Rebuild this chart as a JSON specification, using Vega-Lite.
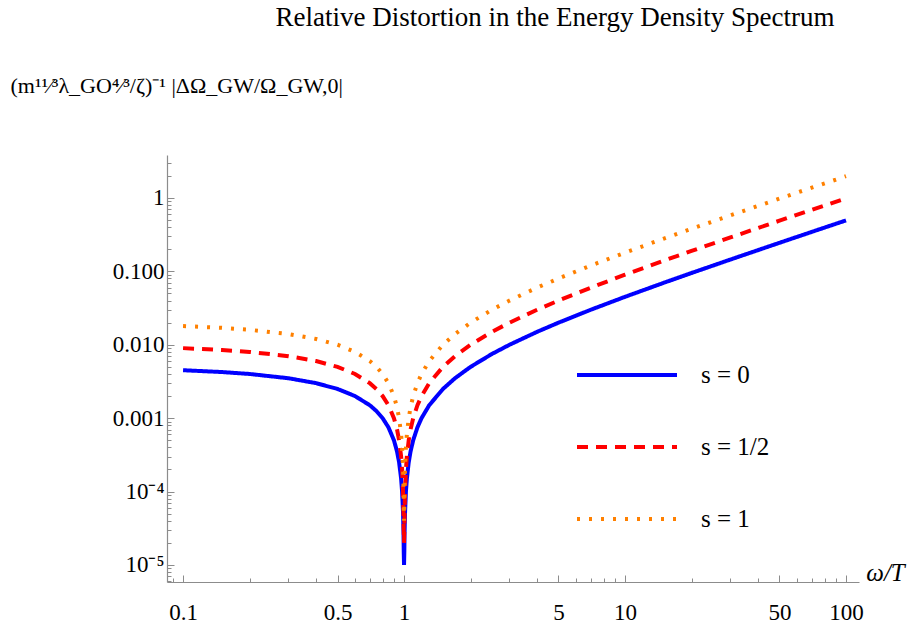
{
  "$schema": "https://vega.github.io/schema/vega-lite/v6.json",
  "width": 692,
  "height": 427,
  "autosize": {"type": "none"},
  "padding": {"left": 167, "top": 155, "right": 49, "bottom": 50},
  "background": "white",
  "title": {
    "text": "Relative Distortion in the Energy Density Spectrum",
    "font": "Liberation Serif",
    "fontSize": 27,
    "fontWeight": "normal",
    "color": "black",
    "anchor": "middle",
    "frame": "group",
    "dx": 42,
    "offset": 42
  },
  "data": {
    "values": [
      {"x": 0.1, "s = 0": 0.0045, "s = 1/2": 0.009, "s = 1": 0.018},
      {"x": 0.15, "s = 0": 0.00425, "s = 1/2": 0.0085, "s = 1": 0.017},
      {"x": 0.2, "s = 0": 0.004, "s = 1/2": 0.008, "s = 1": 0.016},
      {"x": 0.3, "s = 0": 0.0035, "s = 1/2": 0.007, "s = 1": 0.014},
      {"x": 0.4, "s = 0": 0.003, "s = 1/2": 0.006, "s = 1": 0.012},
      {"x": 0.5, "s = 0": 0.0025, "s = 1/2": 0.005, "s = 1": 0.01},
      {"x": 0.6, "s = 0": 0.002, "s = 1/2": 0.004, "s = 1": 0.008},
      {"x": 0.7, "s = 0": 0.0015, "s = 1/2": 0.003, "s = 1": 0.006},
      {"x": 0.75, "s = 0": 0.00125, "s = 1/2": 0.0025, "s = 1": 0.005},
      {"x": 0.8, "s = 0": 0.001, "s = 1/2": 0.002, "s = 1": 0.004},
      {"x": 0.85, "s = 0": 0.00075, "s = 1/2": 0.0015, "s = 1": 0.003},
      {"x": 0.9, "s = 0": 0.0005, "s = 1/2": 0.001, "s = 1": 0.002},
      {"x": 0.93, "s = 0": 0.00035, "s = 1/2": 0.0007, "s = 1": 0.0014},
      {"x": 0.95, "s = 0": 0.00025, "s = 1/2": 0.0005, "s = 1": 0.001},
      {"x": 0.97, "s = 0": 0.00015, "s = 1/2": 0.0003, "s = 1": 0.0006},
      {"x": 0.98, "s = 0": 0.0001, "s = 1/2": 0.0002, "s = 1": 0.0004},
      {"x": 0.99, "s = 0": 0.00005, "s = 1/2": 0.0001, "s = 1": 0.0002},
      {"x": 0.995, "s = 0": 0.000025, "s = 1/2": 0.00005, "s = 1": 0.0001},
      {"x": 0.997, "s = 0": 0.000015, "s = 1/2": 0.00003, "s = 1": 0.00006},
      {"x": 1, "s = 0": 0.00001, "s = 1/2": 0.00002, "s = 1": 0.00004},
      {"x": 1.003, "s = 0": 0.000015, "s = 1/2": 0.00003, "s = 1": 0.00006},
      {"x": 1.005, "s = 0": 0.000025, "s = 1/2": 0.00005, "s = 1": 0.0001},
      {"x": 1.01, "s = 0": 0.00005, "s = 1/2": 0.0001, "s = 1": 0.0002},
      {"x": 1.02, "s = 0": 0.0001, "s = 1/2": 0.0002, "s = 1": 0.0004},
      {"x": 1.03, "s = 0": 0.00015, "s = 1/2": 0.0003, "s = 1": 0.0006},
      {"x": 1.05, "s = 0": 0.00025, "s = 1/2": 0.0005, "s = 1": 0.001},
      {"x": 1.07, "s = 0": 0.00035, "s = 1/2": 0.0007, "s = 1": 0.0014},
      {"x": 1.1, "s = 0": 0.0005, "s = 1/2": 0.001, "s = 1": 0.002},
      {"x": 1.15, "s = 0": 0.00075, "s = 1/2": 0.0015, "s = 1": 0.003},
      {"x": 1.2, "s = 0": 0.001, "s = 1/2": 0.002, "s = 1": 0.004},
      {"x": 1.3, "s = 0": 0.0015, "s = 1/2": 0.003, "s = 1": 0.006},
      {"x": 1.5, "s = 0": 0.0025, "s = 1/2": 0.005, "s = 1": 0.01},
      {"x": 1.7, "s = 0": 0.0035, "s = 1/2": 0.007, "s = 1": 0.014},
      {"x": 2, "s = 0": 0.005, "s = 1/2": 0.01, "s = 1": 0.02},
      {"x": 2.5, "s = 0": 0.0075, "s = 1/2": 0.015, "s = 1": 0.03},
      {"x": 3, "s = 0": 0.01, "s = 1/2": 0.02, "s = 1": 0.04},
      {"x": 4, "s = 0": 0.015, "s = 1/2": 0.03, "s = 1": 0.06},
      {"x": 5, "s = 0": 0.02, "s = 1/2": 0.04, "s = 1": 0.08},
      {"x": 7, "s = 0": 0.03, "s = 1/2": 0.06, "s = 1": 0.12},
      {"x": 10, "s = 0": 0.045, "s = 1/2": 0.09, "s = 1": 0.18},
      {"x": 15, "s = 0": 0.07, "s = 1/2": 0.14, "s = 1": 0.28},
      {"x": 20, "s = 0": 0.095, "s = 1/2": 0.19, "s = 1": 0.38},
      {"x": 30, "s = 0": 0.145, "s = 1/2": 0.29, "s = 1": 0.58},
      {"x": 50, "s = 0": 0.245, "s = 1/2": 0.49, "s = 1": 0.98},
      {"x": 70, "s = 0": 0.345, "s = 1/2": 0.69, "s = 1": 1.38},
      {"x": 100, "s = 0": 0.495, "s = 1/2": 0.99, "s = 1": 1.98}
    ]
  },
  "transform": [
    {"fold": ["s = 0", "s = 1/2", "s = 1"], "as": ["series", "value"]}
  ],
  "mark": {"type": "line", "strokeCap": "butt", "clip": true},
  "encoding": {
    "x": {
      "field": "x",
      "type": "quantitative",
      "scale": {"type": "log", "domain": [0.0846, 114.5], "nice": false},
      "axis": {
        "values": [0.09, 0.1, 0.2, 0.3, 0.4, 0.5, 0.6, 0.7, 0.8, 0.9, 1, 2, 3, 4, 5, 6, 7, 8, 9, 10, 20, 30, 40, 50, 60, 70, 80, 90, 100],
        "labelExpr": "indexof([0.1, 0.5, 1, 5, 10, 50, 100], datum.value) >= 0 ? datum.value + '' : ''",
        "tickSize": {"condition": {"test": "indexof([0.1, 0.5, 1, 5, 10, 50, 100], datum.value) >= 0", "value": -7}, "value": -4},
        "labelPadding": 26,
        "labelFont": "Liberation Serif",
        "labelFontSize": 23,
        "labelColor": "black",
        "labelFlush": false,
        "labelOverlap": false,
        "grid": false,
        "domainColor": "#8c8c8c",
        "domainWidth": 1.2,
        "tickColor": "#8c8c8c",
        "tickWidth": 1,
        "title": "ω/T",
        "titleFont": "Liberation Serif",
        "titleFontSize": 25,
        "titleFontStyle": "italic",
        "titleFontWeight": "normal",
        "titleColor": "black",
        "titleAlign": "center",
        "titleBaseline": "middle",
        "titleX": 718,
        "titleY": -10,
        "titleAngle": 0
      }
    },
    "y": {
      "field": "value",
      "type": "quantitative",
      "scale": {"type": "log", "domain": [0.00000586, 3.85], "nice": false},
      "axis": {
        "values": [0.000006, 0.000007, 0.000008, 0.000009, 0.00001, 0.00002, 0.00003, 0.00004, 0.00005, 0.00006, 0.00007, 0.00008, 0.00009, 0.0001, 0.0002, 0.0003, 0.0004, 0.0005, 0.0006, 0.0007, 0.0008, 0.0009, 0.001, 0.002, 0.003, 0.004, 0.005, 0.006, 0.007, 0.008, 0.009, 0.01, 0.02, 0.03, 0.04, 0.05, 0.06, 0.07, 0.08, 0.09, 0.1, 0.2, 0.3, 0.4, 0.5, 0.6, 0.7, 0.8, 0.9, 1, 2, 3],
        "labelExpr": "datum.value == 1 ? '1' : datum.value == 0.1 ? '0.100' : datum.value == 0.01 ? '0.010' : datum.value == 0.001 ? '0.001' : datum.value == 0.0001 ? '10⁻⁴' : datum.value == 0.00001 ? '10⁻⁵' : ''",
        "tickSize": {"condition": {"test": "indexof([1, 0.1, 0.01, 0.001, 0.0001, 0.00001], datum.value) >= 0", "value": -7}, "value": -4},
        "labelPadding": 10,
        "labelFont": "Liberation Serif",
        "labelFontSize": 23,
        "labelColor": "black",
        "labelFlush": false,
        "labelOverlap": false,
        "grid": false,
        "domainColor": "#8c8c8c",
        "domainWidth": 1.2,
        "tickColor": "#8c8c8c",
        "tickWidth": 1,
        "title": "(m¹¹⁄³λ_GO⁴⁄³/ζ)⁻¹ |ΔΩ_GW/Ω_GW,0|",
        "titleFont": "Liberation Serif",
        "titleFontSize": 22,
        "titleFontWeight": "normal",
        "titleColor": "black",
        "titleAngle": 0,
        "titleAlign": "left",
        "titleBaseline": "middle",
        "titleX": -157,
        "titleY": -70
      }
    },
    "color": {
      "field": "series",
      "type": "nominal",
      "scale": {"domain": ["s = 0", "s = 1/2", "s = 1"], "range": ["#0000ff", "#ff0000", "#ff8000"]},
      "legend": {
        "title": null,
        "orient": "none",
        "legendX": 408,
        "legendY": 168,
        "symbolType": "stroke",
        "symbolSize": 10000,
        "symbolStrokeWidth": 4,
        "labelFont": "Liberation Serif",
        "labelFontSize": 25,
        "labelColor": "black",
        "labelOffset": 22,
        "rowPadding": 7
      }
    },
    "strokeDash": {
      "field": "series",
      "type": "nominal",
      "scale": {"domain": ["s = 0", "s = 1/2", "s = 1"], "range": [[1, 0], [11, 8], [3, 9]]},
      "legend": {
        "title": null,
        "orient": "none",
        "legendX": 408,
        "legendY": 168,
        "symbolType": "stroke",
        "symbolSize": 10000,
        "symbolStrokeWidth": 4,
        "labelFont": "Liberation Serif",
        "labelFontSize": 25,
        "labelColor": "black",
        "labelOffset": 22,
        "rowPadding": 7
      }
    },
    "strokeWidth": {"value": 4}
  },
  "config": {
    "view": {"stroke": null}
  }
}
